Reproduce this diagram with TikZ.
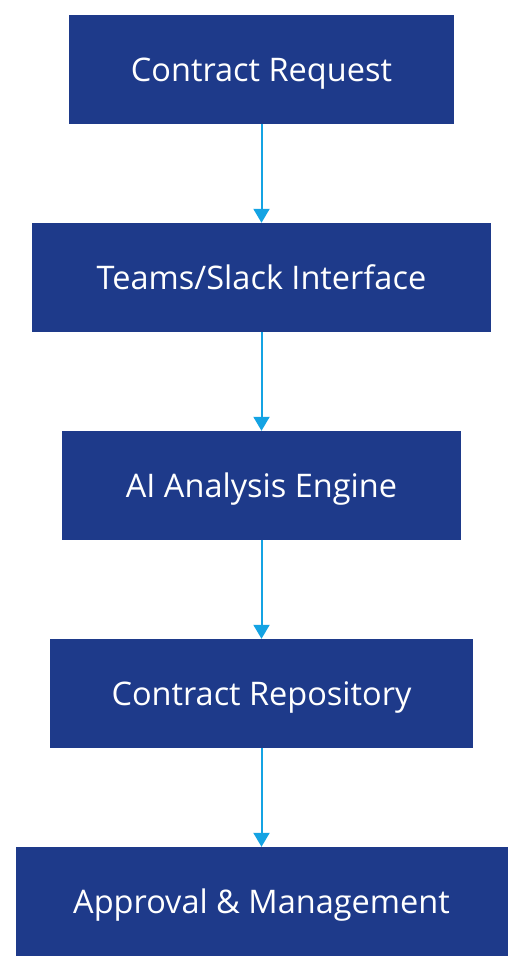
\documentclass[tikz,border=0pt]{standalone}
\usepackage{fontspec}
\setmainfont{Open Sans}
\usetikzlibrary{arrows.meta}
\definecolor{boxblue}{HTML}{1E3A8A}
\definecolor{arrowblue}{HTML}{14A3E3}
\begin{document}
\begin{tikzpicture}[x=1pt,y=-1pt,
  flowbox/.style={draw=none,fill=boxblue,text=white,inner sep=0pt,
    text height=23pt,text depth=0pt,
    font=\fontsize{32.5}{38}\selectfont},
  flowarrow/.style={draw=arrowblue,line width=2pt,-{Triangle[width=16pt,length=14pt]}}]
\useasboundingbox (0,0) rectangle (524,972);
\node[flowbox,minimum width=385pt,minimum height=109pt] (n1) at (261.5,69.5) {Contract Request};
\node[flowbox,minimum width=459pt,minimum height=109pt] (n2) at (261.5,277.5) {Teams/Slack Interface};
\node[flowbox,minimum width=399pt,minimum height=109pt] (n3) at (261.5,485.5) {AI Analysis Engine};
\node[flowbox,minimum width=423pt,minimum height=109pt] (n4) at (261.5,693.5) {Contract Repository};
\node[flowbox,minimum width=492pt,minimum height=109pt] (n5) at (261.5,901.5) {Approval \& Management};
\draw[flowarrow] (n1.south) -- (n2.north);
\draw[flowarrow] (n2.south) -- (n3.north);
\draw[flowarrow] (n3.south) -- (n4.north);
\draw[flowarrow] (n4.south) -- (n5.north);
\end{tikzpicture}
\end{document}
